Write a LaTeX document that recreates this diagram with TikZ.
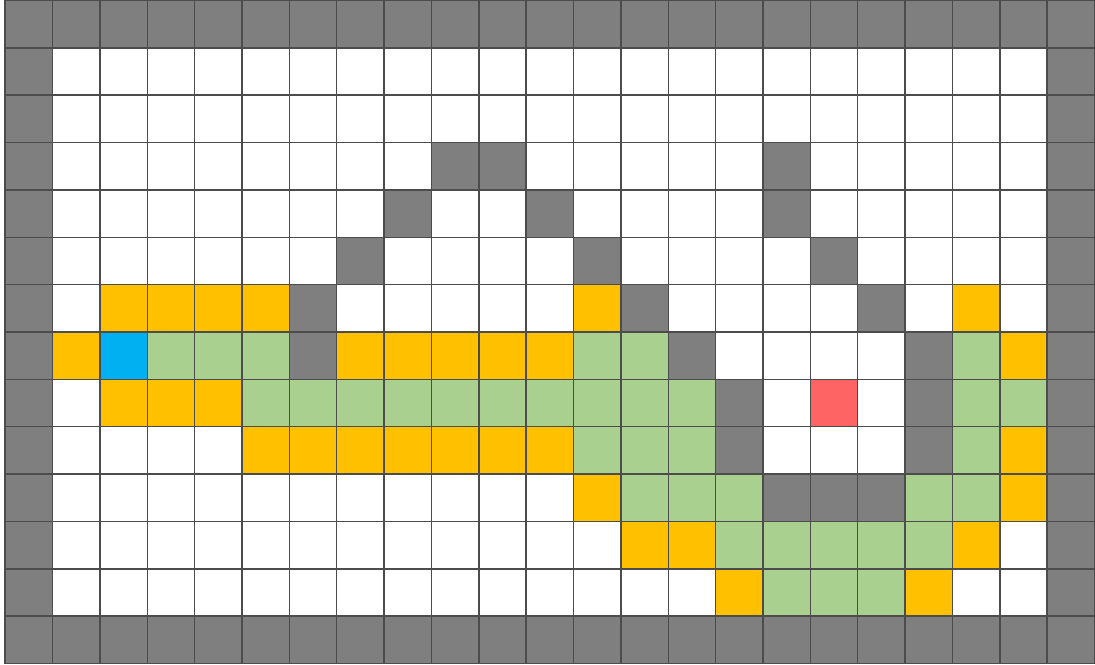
\documentclass[tikz,border=0pt]{standalone}
\usepackage{tikz}
\definecolor{wall}{HTML}{7F7F7F}
\definecolor{edgec}{HTML}{FFC000}
\definecolor{pathc}{HTML}{A9D08E}
\definecolor{startc}{HTML}{00B0F0}
\definecolor{goalc}{HTML}{FF6464}
\tikzset{
  wallcell/.style={fill=wall},
  edgecell/.style={fill=edgec},
  pathcell/.style={fill=pathc},
  startcell/.style={fill=startc},
  goalcell/.style={fill=goalc},
  gridline/.style={draw=black!70, line width=0.9pt}
}
\begin{document}
\begin{tikzpicture}[x=1cm,y=1cm]
\useasboundingbox (-0.11,-0.01) rectangle (23.01,14.01);
\fill[white] (0,0) rectangle (23,14);
% border walls
\fill[wall] (0,13) rectangle (23,14);
\fill[wall] (0,0) rectangle (23,1);
\fill[wall] (0,0) rectangle (1,14);
\fill[wall] (22,0) rectangle (23,14);
% interior walls (row from top / column)
\foreach \r/\c in {3/9,3/10,3/16,4/8,4/11,4/16,5/7,5/12,5/17,6/6,6/13,6/18,7/6,7/14,7/19,8/15,8/19,9/15,9/19,10/16,10/17,10/18}
  \fill[wallcell] (\c,13-\r) rectangle ++(1,1);
% orange cells
\foreach \r/\c in {6/2,6/3,6/4,6/5,6/12,6/20,7/1,7/7,7/8,7/9,7/10,7/11,7/21,8/2,8/3,8/4,9/5,9/6,9/7,9/8,9/9,9/10,9/11,9/21,10/12,10/21,11/13,11/14,11/20,12/15,12/19}
  \fill[edgecell] (\c,13-\r) rectangle ++(1,1);
% green cells
\foreach \r/\c in {7/3,7/4,7/5,7/12,7/13,7/20,8/5,8/6,8/7,8/8,8/9,8/10,8/11,8/12,8/13,8/14,8/20,8/21,9/12,9/13,9/14,9/20,10/13,10/14,10/15,10/19,10/20,11/15,11/16,11/17,11/18,11/19,12/16,12/17,12/18}
  \fill[pathcell] (\c,13-\r) rectangle ++(1,1);
% start and goal
\fill[startcell] (2,13-7) rectangle ++(1,1);
\fill[goalcell] (17,13-8) rectangle ++(1,1);
% grid
\draw[gridline] (0,0) grid (23,14);
\end{tikzpicture}
\end{document}
